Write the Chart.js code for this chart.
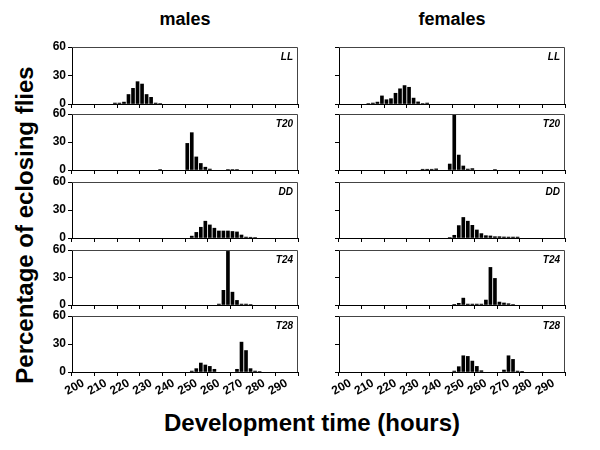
<!DOCTYPE html>
<html>
<head>
<meta charset="utf-8">
<script src="https://cdn.jsdelivr.net/npm/chart.js@4"></script>
<style>
  body { margin: 0; background: #fff; }
  #wrap { position: relative; width: 600px; height: 450px; overflow: hidden; font-family: Arial, "Liberation Sans", sans-serif; }
  #wrap canvas { position: absolute; }
  .txt { position: absolute; font-weight: bold; color: #000; white-space: nowrap; }
</style>
</head>
<body>
<div id="wrap">
  <div class="txt" style="left:185px;top:9px;font-size:18px;transform:translateX(-50%);">males</div>
  <div class="txt" style="left:452px;top:9px;font-size:18px;transform:translateX(-50%);">females</div>
  <div class="txt" style="left:25px;top:225px;font-size:24px;transform:translate(-50%,-50%) rotate(-90deg);">Percentage of eclosing flies</div>
  <div class="txt" style="left:312px;top:409px;font-size:24px;transform:translateX(-50%);">Development time (hours)</div>
</div>
<script>
// conditions, top to bottom
const conditions = ['LL', 'T20', 'DD', 'T24', 'T28'];
const yTicks = [0, 30, 60];

// males: development time (h) and % eclosing
const maleLLHours = [214, 216, 218, 220, 222, 224, 226, 228, 230, 232, 234];
const maleLL = [1, 1, 2, 10, 16.5, 23.5, 21, 10, 7, 1, 0.5];
const maleT20Hours = [234, 246, 248, 250, 252, 254, 256, 264, 266, 268];
const maleT20 = [0.5, 28.5, 40, 14, 7, 3, 1, 0.5, 0.5, 0.5];
const maleDDHours = [248, 250, 252, 254, 256, 258, 260, 262, 264, 266, 268, 270, 272, 274, 276];
const maleDD = [2, 6, 11.5, 18, 14, 10.5, 7.5, 7.5, 7.5, 7, 6.5, 3.2, 1, 0.8, 0.5];
const maleT24Hours = [260, 262, 264, 266, 268, 270, 272, 274];
const maleT24 = [1, 16, 58.5, 14, 5, 1, 1, 0.5];
const maleT28Hours = [248, 250, 252, 254, 256, 258, 268, 270, 272, 274, 276, 278];
const maleT28 = [1, 3.6, 9.6, 7.5, 6, 2.9, 2.9, 32, 23, 3.6, 1, 0.5];

// females
const femaleLLHours = [208, 210, 212, 214, 216, 218, 220, 222, 224, 226, 228, 230, 232, 234];
const femaleLL = [0.5, 1, 2, 8.5, 4.5, 5.6, 11.3, 16, 19.4, 17.6, 6.2, 2.2, 0.5, 1];
const femaleT20Hours = [232, 234, 236, 238, 244, 246, 248, 250, 252, 254, 264];
const femaleT20 = [0.8, 0.8, 0.8, 1.2, 6.4, 60, 16, 4.3, 1, 1.5, 0.5];
const femaleDDHours = [244, 246, 248, 250, 252, 254, 256, 258, 260, 262, 264, 266, 268, 270, 272, 274];
const femaleDD = [0.5, 2.9, 13.3, 22, 18, 13.6, 8.6, 4.7, 2.5, 2.2, 1.4, 1.4, 1.1, 1, 1, 1];
const femaleT24Hours = [246, 248, 250, 252, 254, 256, 258, 260, 262, 264, 266, 268, 270, 272];
const femaleT24 = [0.7, 1.8, 7.5, 1, 1, 1, 1, 5.4, 41, 29, 3.2, 2.2, 1.4, 0.5];
const femaleT28Hours = [246, 248, 250, 252, 254, 256, 258, 268, 270, 272, 274, 276];
const femaleT28 = [1, 5.7, 17.4, 16.7, 11.7, 6, 1.4, 2.1, 17.4, 13.5, 1, 0.7];

const males = [[maleLLHours, maleLL], [maleT20Hours, maleT20], [maleDDHours, maleDD], [maleT24Hours, maleT24], [maleT28Hours, maleT28]];
const females = [[femaleLLHours, femaleLL], [femaleT20Hours, femaleT20], [femaleDDHours, femaleDD], [femaleT24Hours, femaleT24], [femaleT28Hours, femaleT28]];

const rowTops = [47, 114, 182, 250, 316];
const rowBottoms = [104, 170, 238, 305, 372];
const colLefts = [72, 339];
const colWidth = 226;
const font = 'Arial, "Liberation Sans", sans-serif';

const panelDecor = {
    id: 'panelDecor',
    afterDraw(chart) {
        const a = chart.chartArea;
        const ctx = chart.ctx;
        ctx.save();
        ctx.strokeStyle = '#444';
        ctx.lineWidth = 1;
        ctx.beginPath();
        ctx.moveTo(a.left, a.top + 0.5);
        ctx.lineTo(a.right - 0.5, a.top + 0.5);
        ctx.lineTo(a.right - 0.5, a.bottom);
        ctx.stroke();
        ctx.fillStyle = '#000';
        ctx.font = 'italic bold 10px ' + font;
        ctx.textAlign = 'right';
        ctx.textBaseline = 'top';
        ctx.fillText(chart.options.plugins.panelDecor.label, a.right - 5, a.top + 5);
        ctx.restore();
    }
};

function makePanel(col, row, hours, values) {
    const wrap = document.getElementById('wrap');
    const canvas = document.createElement('canvas');
    const bottomRow = row === rowTops.length - 1;
    const xAxisH = bottomRow ? 42 : 10;
    const h = rowBottoms[row] - rowTops[row];
    canvas.width = 40 + colWidth + 10;
    canvas.height = 10 + h + xAxisH;
    wrap.appendChild(canvas);

    const chart = new Chart(canvas.getContext('2d'), {
        type: 'bar',
        data: {
            datasets: [{
                data: hours.map((x, i) => ({ x: x, y: values[i] })),
                backgroundColor: '#000',
                borderWidth: 0,
                barThickness: 3
            }]
        },
        options: {
            responsive: false,
            maintainAspectRatio: false,
            animation: false,
            layout: { padding: { top: 10, right: 8, left: 0, bottom: 0 } },
            plugins: {
                legend: { display: false },
                tooltip: { enabled: false },
                panelDecor: { label: conditions[row] }
            },
            scales: {
                x: {
                    type: 'linear',
                    min: 200,
                    max: 290,
                    afterFit: s => { s.height = xAxisH; },
                    border: { display: true, color: '#000', width: 1 },
                    grid: { drawOnChartArea: false, drawTicks: true, tickLength: 4, color: '#000' },
                    ticks: {
                        stepSize: 10,
                        autoSkip: false,
                        minRotation: 30,
                        maxRotation: 30,
                        padding: 0,
                        color: '#000',
                        font: { family: font, size: 12, weight: 'bold' },
                        callback: v => bottomRow ? v : ''
                    }
                },
                y: {
                    min: 0,
                    max: 60,
                    afterFit: s => { s.width = 36; },
                    afterBuildTicks: s => { s.ticks = yTicks.map(v => ({ value: v })); },
                    border: { display: true, color: '#000', width: 1 },
                    grid: { drawOnChartArea: false, drawTicks: true, tickLength: 4, color: '#000' },
                    ticks: {
                        padding: 2,
                        color: '#000',
                        font: { family: font, size: 12, weight: 'bold' },
                        callback: v => col === 0 ? v : ''
                    }
                }
            }
        },
        plugins: [panelDecor]
    });

    // fit the plot area to the panel size, then place the canvas over it
    let a = chart.chartArea;
    const dw = colWidth - (a.right - a.left);
    const dh = h - (a.bottom - a.top);
    if (dw || dh) {
        chart.resize(canvas.width + dw, canvas.height + dh);
        a = chart.chartArea;
    }
    canvas.style.left = (colLefts[col] - a.left) + 'px';
    canvas.style.top = (rowTops[row] - a.top) + 'px';
}

males.forEach((d, r) => makePanel(0, r, d[0], d[1]));
females.forEach((d, r) => makePanel(1, r, d[0], d[1]));
</script>
</body>
</html>
